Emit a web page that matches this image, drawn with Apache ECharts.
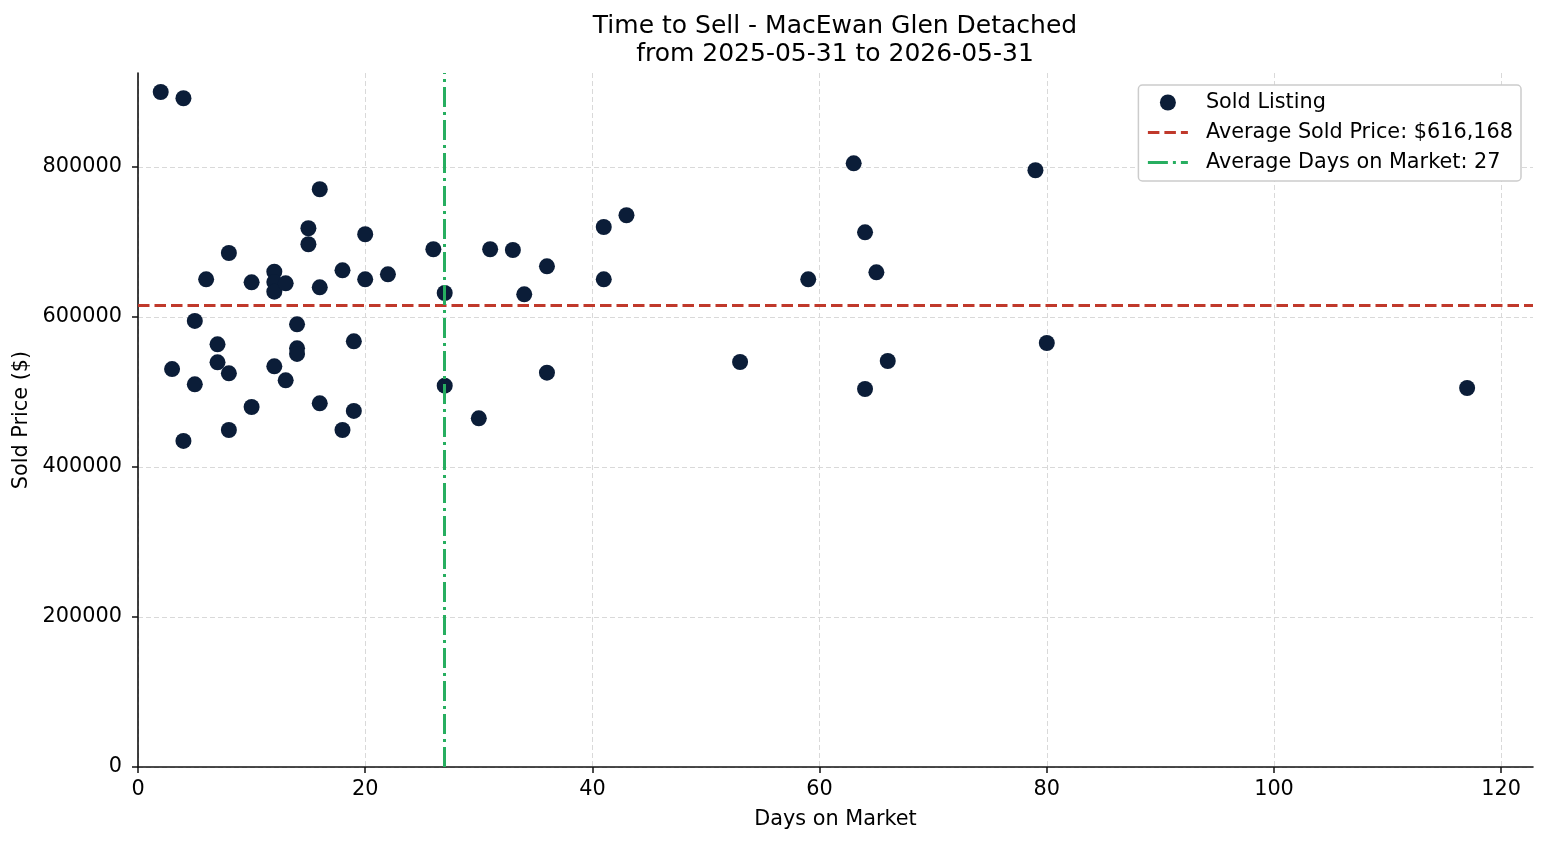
<!DOCTYPE html>
<html>
<head>
<meta charset="utf-8">
<title>Time to Sell - MacEwan Glen Detached</title>
<script src="https://cdn.jsdelivr.net/npm/echarts@6/dist/echarts.min.js"></script>
<style>
  html, body { margin: 0; padding: 0; background: #fff; }
  #chart { width: 1547px; height: 845px; }
</style>
</head>
<body>
<div id="chart"></div>
<script>
// days on market for each sold listing
const daysOnMarket = [
  2, 4, 16, 15, 15, 20, 8, 26, 6, 10,
  12, 12, 12, 13, 16, 18, 20, 22, 27, 5,
  14, 7, 19, 14, 14, 7, 3, 8, 12, 13,
  27, 5, 10, 16, 19, 8, 18, 4, 31, 33,
  36, 41, 43, 41, 34, 36, 30, 63, 79, 64,
  65, 59, 80, 53, 66, 64, 117
]
// sold price ($), same order as daysOnMarket
const soldPrice = [
  900000, 891600, 770300, 718300, 697000, 710300, 685300, 690300, 650200, 646200,
  660400, 646500, 633800, 644900, 639600, 662200, 650200, 656900, 632000, 594700,
  590200, 563600, 567600, 558200, 550700, 539600, 530600, 524900, 534200, 515600,
  508400, 510200, 480000, 484900, 474700, 449300, 449300, 434700, 690300, 689300,
  667600, 720000, 735600, 650200, 630200, 525800, 464900, 804900, 795600, 712900,
  659600, 650200, 565300, 540000, 541300, 504000, 505300
]
const avgSoldPrice = 616168
const avgDays = 27

const xTicks = [0, 20, 40, 60, 80, 100, 120]
const yTicks = [0, 200000, 400000, 600000, 800000]

const points = daysOnMarket.map((d, i) => [d, soldPrice[i]])

const priceName = 'Average Sold Price: $' + avgSoldPrice.toLocaleString('en-US')
const daysName = 'Average Days on Market: ' + avgDays

const fontFamily = 'DejaVu Sans'
const fs = 20.8
const gridLine = { show: true, showMaxLine: false, lineStyle: { color: '#d9d9d9', width: 1, type: [5, 3] } }
const hiddenDot = { color: 'rgba(0,0,0,0)', opacity: 0 }

const chart = echarts.init(document.getElementById('chart'), null, { renderer: 'canvas' })

const option = {
  animation: false,
  backgroundColor: '#ffffff',
  textStyle: { fontFamily: fontFamily },
  title: {
    text: 'Time to Sell - MacEwan Glen Detached\nfrom 2025-05-31 to 2026-05-31',
    left: 830,
    textAlign: 'center',
    top: 7,
    textStyle: { fontFamily: fontFamily, fontSize: 25, fontWeight: 'normal', color: '#000', lineHeight: 28 }
  },
  legend: {
    orient: 'vertical',
    right: 26,
    top: 85,
    padding: [7, 8, 8, 8],
    itemWidth: 40,
    itemHeight: 16,
    itemGap: 9,
    borderColor: '#cccccc',
    borderWidth: 1.5,
    borderRadius: 4,
    backgroundColor: '#ffffff',
    textStyle: { fontFamily: fontFamily, fontSize: fs, lineHeight: 21, color: '#000', padding: [0, 0, 0, 13] },
    data: [
      { name: 'Sold Listing', icon: 'circle', itemStyle: { color: '#0b1d38' } },
      { name: priceName, itemStyle: hiddenDot, lineStyle: { width: 3 } },
      { name: daysName, itemStyle: hiddenDot, lineStyle: { width: 3 } }
    ]
  },
  grid: { left: 138, right: 14, top: 73, bottom: 78, containLabel: false },
  xAxis: {
    type: 'value',
    min: 0,
    max: 122.8,
    interval: 20,
    name: 'Days on Market',
    nameLocation: 'middle',
    nameGap: 42,
    nameTextStyle: { fontFamily: fontFamily, fontSize: fs, color: '#000' },
    axisLine: { show: true, onZero: false, lineStyle: { color: '#111', width: 1.6 } },
    axisTick: { show: true, length: 6, lineStyle: { color: '#111', width: 1.5 } },
    axisLabel: {
      margin: 12,
      fontSize: fs,
      color: '#000',
      showMaxLabel: false,
      formatter: v => (xTicks.includes(v) ? String(v) : '')
    },
    splitLine: gridLine
  },
  yAxis: {
    type: 'value',
    min: 0,
    max: 925300,
    interval: 200000,
    name: 'Sold Price ($)',
    nameLocation: 'middle',
    nameGap: 105,
    nameTextStyle: { fontFamily: fontFamily, fontSize: fs, color: '#000' },
    axisLine: { show: true, onZero: false, lineStyle: { color: '#111', width: 1.6 } },
    axisTick: { show: true, length: 6, lineStyle: { color: '#111', width: 1.5 } },
    axisLabel: {
      margin: 16,
      fontSize: fs,
      color: '#000',
      showMaxLabel: false,
      formatter: v => (yTicks.includes(v) ? String(v) : '')
    },
    splitLine: gridLine
  },
  series: [
    {
      name: 'Sold Listing',
      type: 'scatter',
      symbol: 'circle',
      symbolSize: 16,
      itemStyle: { color: '#0b1d38', opacity: 1 },
      z: 3,
      data: points
    },
    {
      name: priceName,
      type: 'line',
      symbol: 'none',
      data: [],
      z: 4,
      itemStyle: { color: '#c0392b' },
      lineStyle: { color: '#c0392b', width: 3, type: [11.5, 5] },
      markLine: {
        silent: true,
        symbol: 'none',
        label: { show: false },
        lineStyle: { color: '#c0392b', width: 3, type: [11.5, 5] },
        data: [{ yAxis: avgSoldPrice }]
      }
    },
    {
      name: daysName,
      type: 'line',
      symbol: 'none',
      data: [],
      z: 4,
      itemStyle: { color: '#27ae60' },
      lineStyle: { color: '#27ae60', width: 3, type: [20, 5, 3, 5] },
      markLine: {
        silent: true,
        symbol: 'none',
        label: { show: false },
        lineStyle: { color: '#27ae60', width: 3, type: [20, 5, 3, 5] },
        data: [{ xAxis: avgDays }]
      }
    }
  ]
}

chart.setOption(option)

window.addEventListener('resize', function () {
  chart && chart.resize()
})
</script>
</body>
</html>
